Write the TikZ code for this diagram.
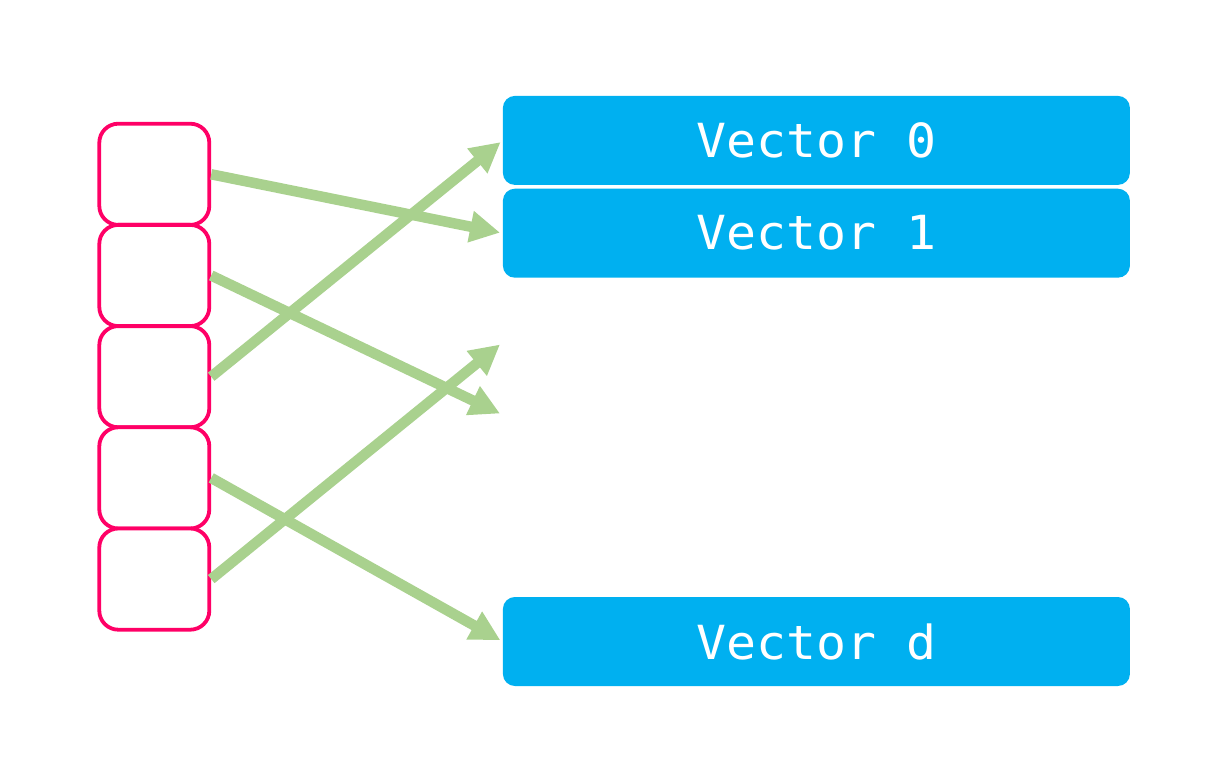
\documentclass[tikz,border=0pt]{standalone}
\usepackage{fontspec}
\setmonofont[FakeStretch=1.06]{DejaVu Sans Mono}
\usetikzlibrary{arrows.meta}
\definecolor{slotpink}{HTML}{FF0066}
\definecolor{vecblue}{HTML}{00B0F0}
\definecolor{linkgreen}{HTML}{A9D18E}
\tikzset{
  slot/.style={draw=slotpink, line width=3.8pt, rounded corners=19pt,
    minimum width=110pt, minimum height=101.2pt, inner sep=0pt, fill=white},
  vecbox/.style={fill=vecblue, rounded corners=12pt, minimum width=627pt,
    minimum height=89pt, inner sep=0pt, text=white,
    font=\ttfamily\fontsize{47}{50}\selectfont},
  link/.style={draw=linkgreen, line width=10.5pt,
    -{Triangle[length=30pt, width=30pt]}}
}
\begin{document}
\begin{tikzpicture}[x=1pt, y=-1pt]
  \useasboundingbox (0,0) rectangle (1226,770);
  % lookup slots
  \node[slot] (p1) at (154.3,174.3) {};
  \node[slot] (p2) at (154.3,275.5) {};
  \node[slot] (p3) at (154.3,376.7) {};
  \node[slot] (p4) at (154.3,477.9) {};
  \node[slot] (p5) at (154.3,579.1) {};
  % vector table
  \node[vecbox] (v0) at (816.4,140.4) {Vector 0};
  \node[vecbox] (v1) at (816.4,233.2) {Vector 1};
  \node[vecbox] (vd) at (816.4,641.5) {Vector d};
  % free arrow ends
  \coordinate (e2) at (500,413.5);
  \coordinate (e5) at (500,344.5);
  % links
  \draw[link, shorten >=2.7pt] (p1.east) -- (v1.west);
  \draw[link] (p2.east) -- (e2);
  \draw[link, shorten >=2.7pt] (p3.east) -- (v0.west);
  \draw[link, shorten >=2.7pt] (p4.east) -- (vd.west);
  \draw[link] (p5.east) -- (e5);
\end{tikzpicture}
\end{document}
